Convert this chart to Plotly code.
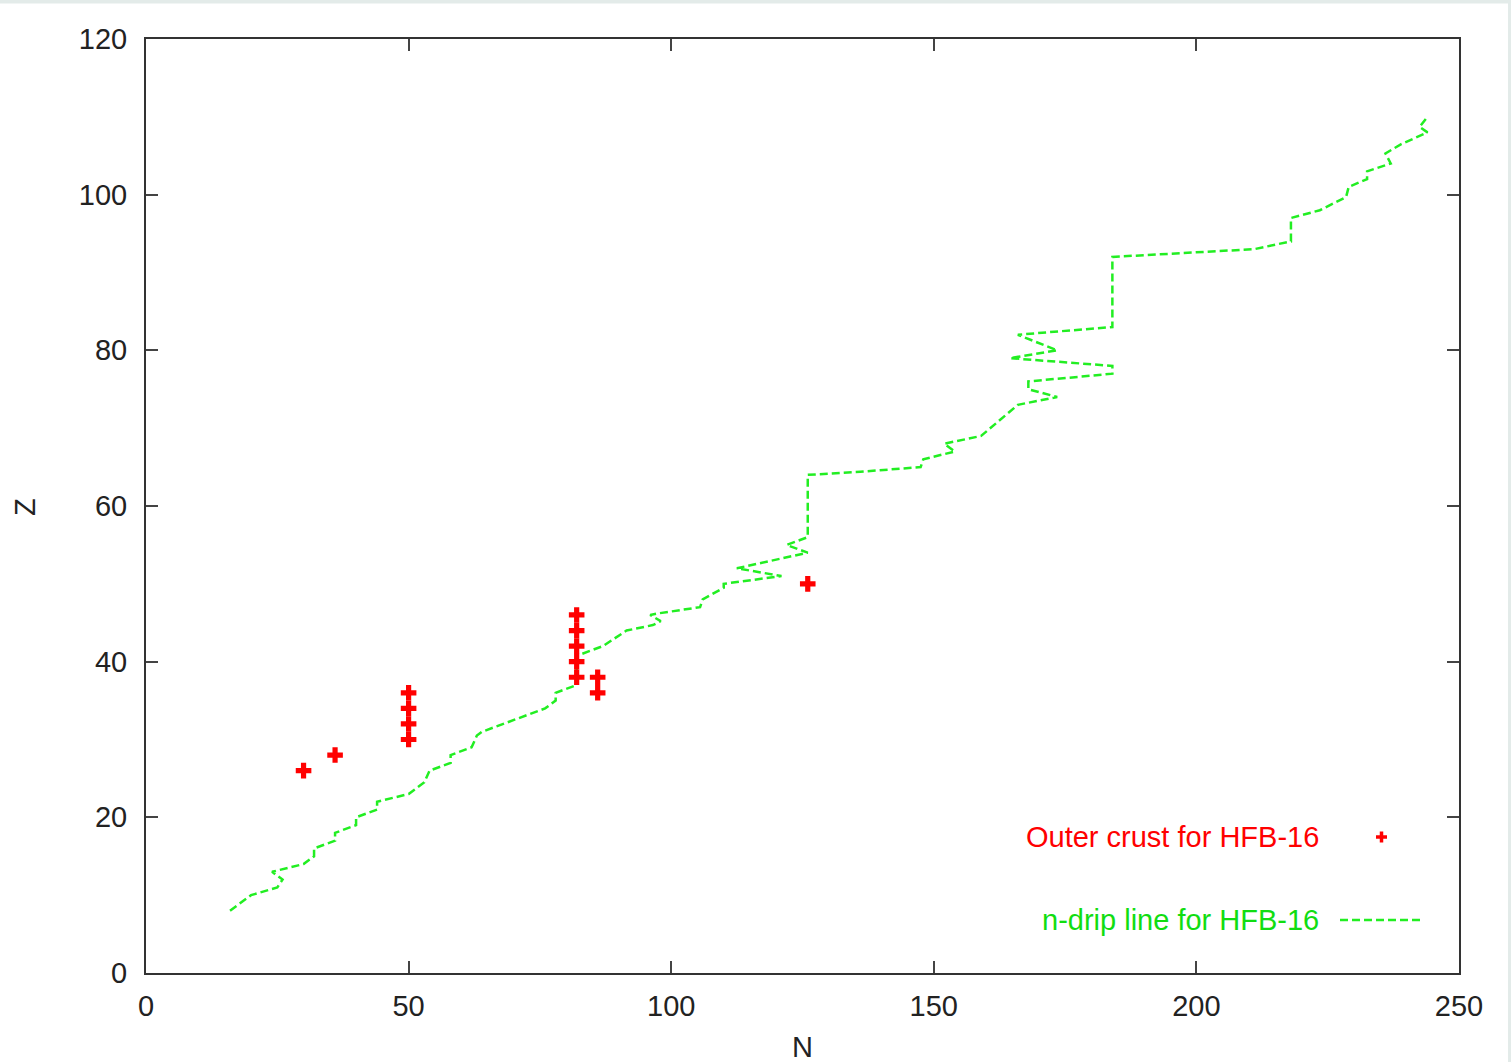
import plotly.graph_objects as go

# Outer crust nuclei (HFB-16)
crust_N = [30, 36, 50, 50, 50, 50, 82, 82, 82, 82, 82, 86, 86, 126]
crust_Z = [26, 28, 30, 32, 34, 36, 38, 40, 42, 44, 46, 36, 38, 50]

# Neutron drip line (HFB-16)
drip_N = [16, 20, 25, 26, 24, 30, 32, 32, 36, 36, 40, 40, 44, 44, 50, 53, 54, 58, 58, 62,
          63, 64, 76, 78, 78, 82, 82, 83, 87, 91.5, 96.5, 98, 96, 97.5, 105.5, 106, 110, 110,
          121, 112.5, 126, 122, 126, 126, 136, 147.5, 148, 154, 152, 159, 166, 173.5, 168, 168,
          184, 184, 164.5, 173.5, 166, 184, 184, 211, 218, 218, 223.5, 228.5, 229, 232.5,
          232.5, 237, 236, 239, 244, 242.5, 244]
drip_Z = [8, 10, 11, 12, 13, 14, 15, 16, 17, 18, 19, 20, 21, 22, 23, 24.5, 26, 27, 28, 29,
          30.5, 31, 34, 35, 36, 37, 41, 41, 42, 44, 44.7, 45.2, 46, 46.2, 47, 48, 49.5, 50,
          51, 52, 54, 55, 56, 64, 64.4, 65, 66, 67, 68, 69, 73, 74, 75, 76,
          77, 78, 79, 80, 82, 83, 92, 93, 94, 97, 98, 99.7, 101, 102,
          103, 104, 105.3, 106.5, 108, 108.7, 110]

x_ticks = [0, 50, 100, 150, 200, 250]
y_ticks = [0, 20, 40, 60, 80, 100, 120]

FONT = "Liberation Sans, Arial, Helvetica, sans-serif"
FS = 29
RED = "#ff0000"
GREEN = "#22ee22"
GREEN_TXT = "#11dd11"

fig = go.Figure()
fig.add_trace(go.Scatter(x=drip_N, y=drip_Z, mode="lines",
                         line=dict(color=GREEN, width=2.5, dash="8px,4px"),
                         showlegend=False, hoverinfo="skip"))
fig.add_trace(go.Scatter(x=crust_N, y=crust_Z, mode="markers",
                         marker=dict(symbol="cross", size=13, color=RED, line=dict(width=0)),
                         showlegend=False))

W, H = 1511, 1062
L, R, T, B = 146, 52, 39, 89
pw, ph = W - L - R, H - T - B

def px(x):
    return (x - L) / pw

def py(y):
    return (H - B - y) / ph

axis_common = dict(showline=True, linecolor="#333333", linewidth=2, mirror="ticks",
                   ticks="inside", ticklen=12, tickwidth=1.5, tickcolor="#444444",
                   showgrid=False, zeroline=False,
                   tickfont=dict(family=FONT, size=FS, color="#222222"))

fig.update_xaxes(range=[0, 250], tickvals=x_ticks, ticklabelstandoff=6, **axis_common)
fig.update_yaxes(range=[0, 120], tickvals=y_ticks, ticklabelstandoff=11, **axis_common)

shapes = [
    # page band at top and right
    dict(type="rect", xref="paper", yref="paper", x0=px(0), x1=px(W), y0=py(3.5), y1=py(0),
         fillcolor="#e3ebe9", line=dict(width=0), layer="below"),
    dict(type="rect", xref="paper", yref="paper", x0=px(1508), x1=px(W), y0=py(H), y1=py(0),
         fillcolor="#e3ebe9", line=dict(width=0), layer="below"),
    # legend samples
    dict(type="line", xref="paper", yref="paper", x0=px(1340), x1=px(1423), y0=py(920), y1=py(920),
         line=dict(color=GREEN, width=2.5, dash="8px,4px")),
    dict(type="line", xref="paper", yref="paper", x0=px(1376), x1=px(1387), y0=py(837), y1=py(837),
         line=dict(color=RED, width=3.5)),
    dict(type="line", xref="paper", yref="paper", x0=px(1381.5), x1=px(1381.5), y0=py(831.5), y1=py(842.5),
         line=dict(color=RED, width=3.5)),
]

annotations = [
    dict(text="Outer crust for HFB-16", x=px(1321), y=py(837), xref="paper", yref="paper",
         xanchor="right", yanchor="middle", showarrow=False,
         font=dict(family=FONT, size=FS, color=RED)),
    dict(text="n-drip line for HFB-16", x=px(1321), y=py(920), xref="paper", yref="paper",
         xanchor="right", yanchor="middle", showarrow=False,
         font=dict(family=FONT, size=FS, color=GREEN_TXT)),
    dict(text="N", x=px(802), y=py(1047), xref="paper", yref="paper",
         xanchor="center", yanchor="middle", showarrow=False,
         font=dict(family=FONT, size=FS, color="#222222")),
    dict(text="Z", x=px(25), y=py(507), xref="paper", yref="paper", textangle=-90,
         xanchor="center", yanchor="middle", showarrow=False,
         font=dict(family=FONT, size=FS, color="#222222")),
]

fig.update_layout(width=W, height=H, margin=dict(l=L, r=R, t=T, b=B, pad=0),
                  paper_bgcolor="white", plot_bgcolor="white",
                  shapes=shapes, annotations=annotations, showlegend=False)

fig.write_html("out.html", config={"displayModeBar": False},
               post_script="document.body.style.margin='0';document.body.style.overflow='hidden';")
